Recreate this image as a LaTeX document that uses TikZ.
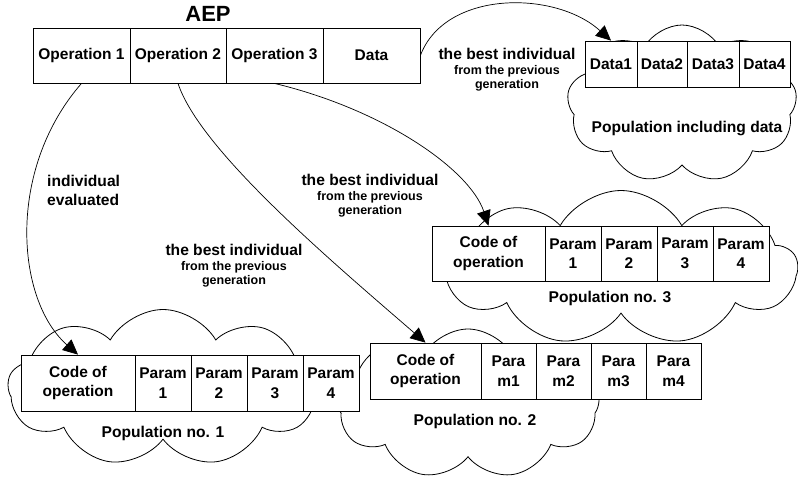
\documentclass[tikz,border=0pt]{standalone}
\usepackage{fontspec}
\setmainfont{Liberation Sans}
\usetikzlibrary{arrows.meta,shapes.symbols}
\begin{document}
\begin{tikzpicture}[x=1pt,y=-1pt,
  cell/.style={draw, fill=white, inner sep=0pt, align=center, line width=0.8pt,
    font=\fontsize{15.5}{19.5}\selectfont\bfseries},
  cloudy/.style={cloud, draw, cloud puffs=9, cloud puff arc=120, cloud ignores aspect,
    inner sep=0pt, line width=0.8pt},
  conn/.style={line width=0.7pt, -{Triangle[length=15pt,width=14pt]}},
  lbl/.style={align=center, inner sep=0pt, font=\fontsize{12.5}{14.5}\selectfont\bfseries},
  big/.style={font=\fontsize{15.6}{18.5}\selectfont\bfseries}
]
\useasboundingbox (0,0) rectangle (798,477);

% clouds
\node[cloudy, minimum width=230pt, minimum height=158pt] (cd) at (682,104) {};
\node[cloudy, minimum width=352pt, minimum height=155pt] (c3) at (621,268) {};
\node[cloudy, minimum width=310pt, minimum height=157pt] (c1) at (163,388) {};
\node[cloudy, minimum width=263pt, minimum height=150pt] (c2) at (468,404) {};

% AEP
\node[font=\fontsize{22}{25}\selectfont\bfseries, inner sep=0pt] (aep) at (208,14) {AEP};
\node[cell, minimum width=97pt, minimum height=55pt] (op1) at (81.5,55.5) {Operation 1};
\node[cell, minimum width=96pt, minimum height=55pt] (op2) at (178,55.5) {Operation 2};
\node[cell, minimum width=97pt, minimum height=55pt] (op3) at (274.5,55.5) {Operation 3};
\node[cell, minimum width=97pt, minimum height=55pt] (data) at (371.5,55.5) {Data};

% Data population
\node[cell, minimum width=52pt, minimum height=46pt] (d1) at (611,64) {Data1};
\node[cell, minimum width=50pt, minimum height=46pt] (d2) at (662,64) {Data2};
\node[cell, minimum width=52pt, minimum height=46pt] (d3) at (713,64) {Data3};
\node[cell, minimum width=51pt, minimum height=46pt] (d4) at (764.5,64) {Data4};
\node[big, inner sep=0pt] (pd) at (687,128) {Population including data};

% Population 3
\node[cell, minimum width=113pt, minimum height=55pt] (c3c) at (488.5,253.5) {Code of\\operation};
\node[cell, minimum width=56pt, minimum height=55pt] (c3a) at (573,253.5) {Param\\1};
\node[cell, minimum width=56pt, minimum height=55pt] (c3b) at (629,253.5) {Param\\2};
\node[cell, minimum width=56pt, minimum height=55pt] (c3d) at (685,253.5) {Param\\3};
\node[cell, minimum width=56pt, minimum height=55pt] (c3e) at (741,253.5) {Param\\4};
\node[big, inner sep=0pt] (p3) at (610,298) {Population no. 3};

% Population 1
\node[cell, minimum width=114pt, minimum height=56pt] (c1c) at (78,383) {Code of\\operation};
\node[cell, minimum width=56pt, minimum height=56pt] (c1a) at (163,383) {Param\\1};
\node[cell, minimum width=56pt, minimum height=56pt] (c1b) at (219,383) {Param\\2};
\node[cell, minimum width=56pt, minimum height=56pt] (c1d) at (275,383) {Param\\3};
\node[cell, minimum width=56pt, minimum height=56pt] (c1e) at (331,383) {Param\\4};
\node[big, inner sep=0pt] (p1) at (163,433) {Population no. 1};

% Population 2
\node[cell, minimum width=111pt, minimum height=56pt] (c2c) at (425.5,371) {Code of\\operation};
\node[cell, minimum width=55pt, minimum height=56pt] (c2a) at (508.5,371) {Para\\m1};
\node[cell, minimum width=55pt, minimum height=56pt] (c2b) at (563.5,371) {Para\\m2};
\node[cell, minimum width=55pt, minimum height=56pt] (c2d) at (618.5,371) {Para\\m3};
\node[cell, minimum width=55pt, minimum height=56pt] (c2e) at (673.5,371) {Para\\m4};
\node[big, inner sep=0pt] (p2) at (475,421) {Population no. 2};

% connectors
\draw[conn] (op1.south) .. controls (6,170) and (16,300) .. (c1c.north);
\draw[conn] (op2.south) .. controls (200,150) and (330,260) .. (c2c.north);
\draw[conn] (op3.south) .. controls (385,110) and (470,170) .. (c3c.north);
\draw[conn] (data.east) .. controls (445,-10) and (555,-10) .. (d1.north);

% labels
\node[lbl, align=left, big, anchor=north west] (ev) at (47,175) {individual\\evaluated};
\node[lbl] (la) at (234,266) {{\fontsize{15.6}{18.5}\selectfont the best individual}\\from the previous\\generation};
\node[lbl] (lb) at (370,196) {{\fontsize{15.6}{18.5}\selectfont the best individual}\\from the previous\\generation};
\node[lbl] (lc) at (507,70) {{\fontsize{15.6}{18.5}\selectfont the best individual}\\from the previous\\generation};
\end{tikzpicture}
\end{document}
